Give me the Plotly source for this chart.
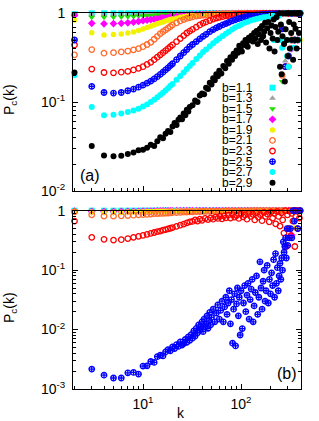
import plotly.graph_objects as go

# ---------------- data ----------------
K = [2, 3, 4, 5, 6, 7, 8, 9, 10, 11, 12, 13, 14, 15, 16, 17, 18, 19, 20, 22,
     24, 26, 28, 30, 32, 35, 38, 41, 44, 48, 52, 56, 60, 65, 70, 75, 81, 87, 94, 101,
     109, 117, 126, 136, 146, 157, 169, 182, 196, 211, 227, 244, 263, 283, 305, 328, 353, 380, 400]

LABELS = ["b=1.1", "b=1.3", "b=1.5", "b=1.7", "b=1.9", "b=2.1", "b=2.3", "b=2.5", "b=2.7", "b=2.9"]

# panel (a)
P_B11_A = [0.98, 1, 1, 1, 1, 1, 1, 1, 1, 1,
           1, 1, 1, 1, 1, 1, 1, 1, 1, 1,
           1, 1, 1, 1, 1, 1, 1, 1, 1, 1,
           1, 1, 1, 1, 1, 1, 1, 1, 1, 1,
           1, 1, 1, 1, 1, 1, 1, 1, 1, 1,
           1, 1, 1, 1, 1, 1, 1, 1, 1]
P_B13_A = [0.97, 0.96, 0.96, 0.965, 0.97, 0.97, 0.975, 0.98, 0.98, 0.985,
           0.985, 0.99, 0.99, 0.99, 0.99, 0.995, 0.995, 0.995, 0.995, 1,
           1, 1, 1, 1, 1, 1, 1, 1, 1, 1,
           1, 1, 1, 1, 1, 1, 1, 1, 1, 1,
           1, 1, 1, 1, 1, 1, 1, 1, 1, 1,
           1, 1, 1, 0.29, 1, 1, 1, 0.5, 1]
P_B15_A = [0.97, 0.90, 0.90, 0.905, 0.91, 0.915, 0.92, 0.93, 0.935, 0.94,
           0.945, 0.95, 0.955, 0.96, 0.963, 0.966, 0.97, 0.972, 0.975, 0.978,
           0.98, 0.983, 0.985, 0.987, 0.988, 0.99, 0.99, 0.992, 0.993, 0.994,
           0.995, 0.996, 0.997, 0.998, 0.998, 1, 1, 1, 1, 1,
           1, 1, 1, 1, 1, 1, 1, 1, 1, 1,
           1, 1, 0.17, 1, 1, 1, 0.5, 1, 1]
P_B17_A = [0.95, 0.77, 0.76, 0.765, 0.77, 0.78, 0.795, 0.81, 0.825, 0.84,
           0.85, 0.86, 0.87, 0.88, 0.89, 0.895, 0.90, 0.91, 0.915, 0.925,
           0.935, 0.94, 0.95, 0.955, 0.96, 0.965, 0.97, 0.975, 0.978, 0.98,
           0.983, 0.985, 0.987, 0.99, 0.99, 0.992, 0.993, 0.994, 0.995, 0.996,
           0.997, 0.998, 1, 1, 1, 1, 1, 1, 1, 1,
           1, 1, 1, 1, 1, 0.4, 1, 0.5, 1]
P_B19_A = [0.84, 0.605, 0.57, 0.575, 0.585, 0.60, 0.617, 0.64, 0.667, 0.69,
           0.715, 0.74, 0.76, 0.785, 0.80, 0.82, 0.835, 0.85, 0.86, 0.88,
           0.90, 0.915, 0.925, 0.935, 0.945, 0.955, 0.962, 0.968, 0.972, 0.976,
           0.98, 0.983, 0.985, 0.987, 0.99, 0.991, 0.993, 0.994, 0.995, 0.996,
           0.997, 0.998, 0.998, 1, 1, 1, 1, 1, 1, 1,
           1, 1, 1, 1, 0.33, 1, 1, 1, 0.5]
P_B21_A = [0.34, 0.39, 0.355, 0.36, 0.367, 0.375, 0.387, 0.40, 0.42, 0.445,
           0.47, 0.51, 0.55, 0.59, 0.62, 0.65, 0.68, 0.71, 0.74, 0.78,
           0.82, 0.85, 0.875, 0.895, 0.91, 0.93, 0.945, 0.955, 0.965, 0.972,
           0.978, 0.982, 0.985, 0.988, 0.99, 0.992, 0.993, 0.994, 0.995, 0.996,
           0.997, 0.998, 0.998, 1, 1, 1, 1, 1, 1, 1,
           1, 0.67, 0.2, 1, 0.25, 1, 0.5, 1, 1]
P_B23_A = [0.44, 0.235, 0.215, 0.213, 0.217, 0.222, 0.23, 0.24, 0.25, 0.265,
           0.28, 0.30, 0.32, 0.34, 0.36, 0.38, 0.40, 0.42, 0.44, 0.48,
           0.52, 0.56, 0.60, 0.63, 0.66, 0.70, 0.74, 0.775, 0.80, 0.83,
           0.86, 0.885, 0.90, 0.92, 0.935, 0.945, 0.955, 0.963, 0.97, 0.975,
           0.98, 0.984, 0.987, 0.99, 0.992, 0.994, 0.996, 0.997, 0.998, 1,
           1, 0.67, 1, 0.25, 1, 0.5, 1, 1, 1]
P_B25_A = [0.50, 0.15, 0.128, 0.126, 0.128, 0.134, 0.14, 0.147, 0.155, 0.163,
           0.172, 0.182, 0.193, 0.205, 0.217, 0.23, 0.243, 0.257, 0.27, 0.30,
           0.33, 0.36, 0.39, 0.42, 0.445, 0.48, 0.515, 0.55, 0.58, 0.62,
           0.655, 0.685, 0.71, 0.74, 0.765, 0.79, 0.82, 0.845, 0.87, 0.89,
           0.91, 0.925, 0.94, 0.95, 0.96, 0.967, 0.973, 0.978, 0.982, 0.985,
           0.988, 0.99, 0.67, 0.25, 0.33, 1, 0.5, 1, 1]
P_B27_A = [0.20, 0.088, 0.071, 0.072, 0.074, 0.077, 0.08, 0.084, 0.089, 0.094,
           0.10, 0.106, 0.113, 0.12, 0.127, 0.135, 0.143, 0.152, 0.16, 0.178,
           0.197, 0.215, 0.235, 0.255, 0.275, 0.305, 0.335, 0.365, 0.39, 0.425,
           0.46, 0.49, 0.52, 0.555, 0.59, 0.62, 0.655, 0.69, 0.72, 0.75,
           0.78, 0.805, 0.83, 0.85, 0.87, 0.885, 0.90, 0.91, 0.92, 0.93,
           0.5, 0.94, 0.41, 0.5, 0.25, 0.5, 1, 0.5, 1]
K_B27_A_TAIL = [205, 215, 220, 235, 250, 255, 270, 275, 290, 295, 315, 320, 340, 345, 365, 370, 390]
P_B27_A_TAIL = [0.96, 0.5, 0.88, 0.5, 0.97, 0.5, 0.5, 1.0, 0.5, 0.33, 0.5, 1.0, 0.5, 0.41, 0.5, 1.0, 0.5]

K_B29_A = [2, 3, 4, 5, 6, 7, 8, 9, 10, 11, 12, 13, 14, 15, 16, 17, 18, 19, 20, 21,
           22, 23, 24, 25, 26, 27, 28, 29, 30, 32, 34, 36, 38, 40, 42, 44, 46, 48, 50, 52,
           54, 56, 58, 60, 63, 66, 69, 72, 75, 78, 81, 84, 87, 90, 93, 96, 99, 102, 105, 108,
           111, 114, 117, 120, 124, 128, 132, 136, 140, 144, 148, 152, 156, 160, 164, 168, 172, 176, 180, 185,
           190, 195, 200, 205, 210, 215, 220, 225, 230, 235, 240, 245, 250, 255, 260, 265, 270, 275, 280, 285,
           290, 295, 300, 305, 310, 315, 320, 325, 330, 335, 340, 345, 350, 355, 360, 365, 370, 375, 380, 385,
           390, 395, 400]
P_B29_A = [0.215, 0.032, 0.025, 0.0245, 0.0248, 0.026, 0.027, 0.0285, 0.029, 0.0305, 0.033, 0.032, 0.036, 0.04, 0.039, 0.044, 0.047, 0.046, 0.053, 0.058,
           0.055, 0.063, 0.067, 0.064, 0.074, 0.071, 0.082, 0.078, 0.088, 0.092, 0.104, 0.10, 0.118, 0.125, 0.122, 0.145, 0.14, 0.165, 0.158, 0.185,
           0.176, 0.205, 0.195, 0.225, 0.21, 0.255, 0.24, 0.29, 0.27, 0.32, 0.30, 0.35, 0.33, 0.38, 0.36, 0.43, 0.40, 0.37, 0.46, 0.44,
           0.50, 0.47, 0.42, 0.53, 0.50, 0.56, 0.48, 0.60, 0.52, 0.63, 0.45, 0.58, 0.67, 0.50, 0.72, 0.55, 0.62, 0.78, 0.47, 0.68,
           0.80, 0.40, 0.60, 0.73, 0.52, 0.85, 0.37, 0.70, 0.90, 0.50, 0.62, 1.0, 0.25, 0.75, 0.205, 0.55, 1.0, 0.45, 0.17, 0.66,
           1.0, 0.50, 0.33, 1.0, 0.80, 0.40, 1.0, 0.60, 0.50, 1.0, 0.30, 0.75, 1.0, 0.50, 0.67, 1.0, 0.40, 1.0, 0.50, 1.0,
           0.60, 1.0, 1.0]

# panel (b)
P_B11_B = [1, 1, 1, 1, 1, 1, 1, 1, 1, 1,
           1, 1, 1, 1, 1, 1, 1, 1, 1, 1,
           1, 1, 1, 1, 1, 1, 1, 1, 1, 1,
           1, 1, 1, 1, 1, 1, 1, 1, 1, 1,
           1, 1, 1, 1, 1, 1, 1, 1, 1, 1,
           1, 1, 1, 1, 1, 1, 1, 1, 1]
P_B13_B = [0.99, 1, 1, 1, 1, 1, 1, 1, 1, 1,
           1, 1, 1, 1, 1, 1, 1, 1, 1, 1,
           1, 1, 1, 1, 1, 1, 1, 1, 1, 1,
           1, 1, 1, 1, 1, 1, 1, 1, 1, 1,
           1, 1, 1, 1, 1, 1, 1, 1, 1, 1,
           1, 1, 1, 1, 1, 1, 1, 1, 1]
P_B15_B = [0.99, 0.98, 0.98, 0.985, 0.985, 0.99, 0.99, 0.99, 0.995, 0.995,
           1, 1, 1, 1, 1, 1, 1, 1, 1, 1,
           1, 1, 1, 1, 1, 1, 1, 1, 1, 1,
           1, 1, 1, 1, 1, 1, 1, 1, 1, 1,
           1, 1, 1, 1, 1, 1, 1, 1, 1, 1,
           1, 1, 1, 1, 1, 1, 1, 1, 1]
P_B17_B = [0.98, 0.97, 0.965, 0.965, 0.97, 0.97, 0.975, 0.975, 0.98, 0.98,
           0.985, 0.985, 0.99, 0.99, 0.99, 0.99, 0.995, 0.995, 0.995, 1,
           1, 1, 1, 1, 1, 1, 1, 1, 1, 1,
           1, 1, 1, 1, 1, 1, 1, 1, 1, 1,
           1, 1, 1, 1, 1, 1, 1, 1, 1, 1,
           1, 1, 1, 1, 1, 0.39, 1, 1, 1]
P_B19_B = [0.97, 0.95, 0.94, 0.94, 0.945, 0.95, 0.955, 0.96, 0.963, 0.966,
           0.97, 0.972, 0.975, 0.977, 0.978, 0.98, 0.982, 0.983, 0.985, 0.987,
           0.99, 0.99, 0.992, 0.993, 0.994, 0.995, 0.996, 0.997, 0.998, 1,
           1, 1, 1, 1, 1, 1, 1, 1, 1, 1,
           1, 1, 1, 1, 1, 1, 1, 1, 1, 1,
           1, 1, 1, 1, 1, 1, 0.51, 1, 1]
P_B21_B = [0.96, 0.85, 0.81, 0.81, 0.82, 0.83, 0.84, 0.85, 0.86, 0.87,
           0.88, 0.89, 0.895, 0.90, 0.905, 0.91, 0.915, 0.92, 0.925, 0.93,
           0.94, 0.945, 0.95, 0.955, 0.96, 0.965, 0.97, 0.972, 0.975, 0.978,
           0.98, 0.982, 0.985, 0.987, 0.99, 0.99, 0.992, 0.993, 0.994, 0.995,
           0.996, 0.997, 0.998, 1, 1, 1, 1, 1, 1, 1,
           1, 1, 1, 1, 0.5, 1, 1, 1, 1]

K_B23_B = [2, 3, 4, 5, 6, 7, 8, 9, 10, 11, 12, 13, 14, 15, 16, 17, 18, 19, 20, 22,
           24, 26, 28, 30, 32, 34, 36, 38, 40, 43, 46, 49, 52, 55, 58, 61, 64, 67, 70, 74,
           78, 82, 86, 90, 95, 100, 105, 110, 115, 120, 126, 132, 138, 144, 150, 157, 164, 171, 178, 186,
           194, 202, 210, 218, 226, 234, 242, 250, 258, 266, 274, 282, 290, 298, 306, 314, 322, 330, 338, 346,
           354, 362, 370, 378, 386, 394, 400]
P_B23_B = [0.67, 0.356, 0.33, 0.32, 0.325, 0.34, 0.356, 0.37, 0.385, 0.40, 0.416, 0.43, 0.443, 0.455, 0.47, 0.48, 0.495, 0.507, 0.52, 0.545,
           0.57, 0.595, 0.625, 0.65, 0.66, 0.70, 0.67, 0.72, 0.69, 0.74, 0.71, 0.76, 0.72, 0.78, 0.74, 0.80, 0.73, 0.82, 0.76, 0.84,
           0.75, 0.86, 0.78, 0.83, 0.74, 0.88, 0.79, 0.85, 0.72, 0.90, 0.80, 0.87, 0.70, 0.92, 0.78, 0.86, 0.68, 0.94, 0.80, 0.88,
           0.65, 0.95, 0.75, 0.90, 0.60, 0.97, 0.80, 0.55, 0.92, 0.70, 0.42, 1.0, 0.25, 0.85, 0.50, 1.0, 0.38, 0.90, 0.67, 1.0,
           0.25, 0.80, 1.0, 0.50, 1.0, 0.75, 1.0]

K_B25_B = [3, 4, 5, 6, 7, 8, 9, 10, 11, 12, 13, 14, 15, 16, 17, 18, 19, 20, 21, 22,
           23, 24, 25, 26, 27, 28, 29, 30, 31, 32, 33, 34, 35, 36, 37, 38, 39, 40, 41, 42,
           43, 44, 45, 46, 47, 48, 49, 50, 52, 54, 56, 58, 60, 62, 64, 66, 68, 70, 72, 74,
           76, 78, 80, 82, 84, 86, 88, 90, 92, 94, 96, 98, 100, 103, 106, 109, 112, 115, 118, 121,
           124, 127, 130, 133, 136, 140, 144, 148, 152, 156, 160, 164, 168, 172, 176, 180, 185, 190, 195, 200,
           205, 210, 215, 220, 225, 230, 235, 240, 245, 250, 255, 260, 265, 270, 275, 280, 285, 290, 295, 300,
           310, 320, 330, 340, 350, 360, 380, 400]
P_B25_B = [0.00216, 0.00171, 0.00153, 0.00153, 0.00187, 0.0019, 0.00178, 0.00243, 0.00245, 0.0029, 0.0028, 0.0035, 0.0037, 0.0036, 0.0042, 0.0046, 0.0044, 0.0051, 0.0048, 0.0056,
           0.0052, 0.0062, 0.0055, 0.0058, 0.0068, 0.0061, 0.0075, 0.0066, 0.0082, 0.0072, 0.0095, 0.0078, 0.0105, 0.0088, 0.012, 0.0098, 0.0112, 0.0135, 0.0092, 0.015,
           0.011, 0.0125, 0.017, 0.0105, 0.014, 0.0195, 0.012, 0.016, 0.022, 0.0135, 0.019, 0.026, 0.015, 0.021, 0.030, 0.0135, 0.024, 0.035, 0.018, 0.028,
           0.045, 0.0125, 0.032, 0.0059, 0.022, 0.040, 0.0053, 0.027, 0.050, 0.017, 0.035, 0.0081, 0.045, 0.0104, 0.028, 0.055, 0.020, 0.038, 0.060, 0.015,
           0.032, 0.048, 0.070, 0.0135, 0.025, 0.042, 0.080, 0.018, 0.035, 0.138, 0.050, 0.022, 0.065, 0.10, 0.030, 0.045, 0.12, 0.028, 0.070, 0.040,
           0.090, 0.055, 0.15, 0.035, 0.19, 0.060, 0.11, 0.045, 0.080, 0.13, 0.070, 0.16, 0.10, 0.30, 0.20, 0.25, 0.35, 0.16, 0.50, 0.26,
           0.35, 0.50, 0.35, 1.0, 0.67, 1.0, 0.50, 1.0]

# ---------------- styles ----------------
COLORS = ["#00FFFF", "#A0A0A0", "#22DD00", "#FF00FF", "#F2F200",
          "#FF6A2A", "#FF0000", "#0000FF", "#00FFFF", "#000000"]
SYMBOLS = ["square", "triangle-up", "triangle-down", "diamond", "circle",
           "circle-open", "circle-open", "circle-cross-open", "circle", "circle"]
SIZES = [6, 6, 6, 6, 5.5, 5.5, 5.5, 5.5, 6, 6]


def marker(i):
    m = dict(symbol=SYMBOLS[i], color=COLORS[i], size=SIZES[i])
    if "open" in SYMBOLS[i]:
        m["line"] = dict(color=COLORS[i], width=1.3)
    else:
        m["line"] = dict(width=0)
    return m


fig = go.Figure()

top = [(K, P_B11_A), (K, P_B13_A), (K, P_B15_A), (K, P_B17_A), (K, P_B19_A),
       (K, P_B21_A), (K, P_B23_A), (K, P_B25_A),
       (K + K_B27_A_TAIL, P_B27_A + P_B27_A_TAIL), (K_B29_A, P_B29_A)]
for i, (xs, ys) in enumerate(top):
    fig.add_trace(go.Scatter(x=xs, y=ys, mode="markers", marker=marker(i),
                             cliponaxis=False, xaxis="x", yaxis="y", showlegend=False))

bottom = [(0, K, P_B11_B), (1, K, P_B13_B), (2, K, P_B15_B), (3, K, P_B17_B),
          (4, K, P_B19_B), (5, K, P_B21_B), (6, K_B23_B, P_B23_B), (7, K_B25_B, P_B25_B)]
for i, xs, ys in bottom:
    fig.add_trace(go.Scatter(x=xs, y=ys, mode="markers", marker=marker(i),
                             cliponaxis=False, xaxis="x2", yaxis="y2", showlegend=False))

# layout geometry (pixels)
W_L, W_R, H_T, H_B = 73, 18, 13, 32
PW = 319 - W_L - W_R
PH = 421 - H_T - H_B
TOP_PX = (13.3, 190.7)
BOT_PX = (210.7, 389.0)


def ypaper(px):
    return (421 - H_B - px) / PH


def xpaper(px):
    return (px - W_L) / PW


# legend (text left, symbol right) drawn on an overlay axis of panel (a)
leg_rows = [87.7 + 10.55 * i for i in range(len(LABELS))]
for i, lab in enumerate(LABELS):
    yv = (TOP_PX[1] - leg_rows[i]) / (TOP_PX[1] - TOP_PX[0])
    fig.add_trace(go.Scatter(x=[xpaper(272.5)], y=[yv], mode="markers", marker=marker(i),
                             xaxis="x3", yaxis="y3", showlegend=False, cliponaxis=False))

FONT = "Liberation Sans, Arial, sans-serif"
ann = []
for i, lab in enumerate(LABELS):
    ann.append(dict(text=lab, x=xpaper(220), y=ypaper(leg_rows[i]), xref="paper", yref="paper",
                    xanchor="left", yanchor="middle", showarrow=False, height=10,
                    font=dict(family=FONT, size=12, color="black")))


def label(text, px, py, size, angle=0):
    return dict(text=text, x=xpaper(px), y=ypaper(py), xref="paper", yref="paper",
                xanchor="center", yanchor="middle", textangle=angle, showarrow=False,
                font=dict(family=FONT, size=size, color="black"))


ann += [
    label("(a)", 90, 175, 16),
    label("(b)", 287, 373, 16),
    label("P<sub>c</sub>(k)", 10, 99, 14, -90),
    label("P<sub>c</sub>(k)", 10, 307, 14, -90),
    label("k", 181, 413, 14),
]

XMAJ = [10, 100]
XMIN = [2, 3, 4, 5, 6, 7, 8, 9, 20, 30, 40, 50, 60, 70, 80, 90, 200, 300, 400]
YMIN_A = [0.02, 0.03, 0.04, 0.05, 0.06, 0.07, 0.08, 0.09, 0.2, 0.3, 0.4, 0.5, 0.6, 0.7, 0.8, 0.9]
YMIN_B = [0.002, 0.003, 0.004, 0.005, 0.006, 0.007, 0.008, 0.009,
          0.02, 0.03, 0.04, 0.05, 0.06, 0.07, 0.08, 0.09] + YMIN_A[8:]

axis_common = dict(type="log", showline=True, linecolor="black", linewidth=1, mirror="ticks",
                   ticks="inside", ticklen=5, tickcolor="black", showgrid=False, zeroline=False,
                   automargin=False,
                   tickfont=dict(family=FONT, size=14, color="black"))

xr = [0.2857, 2.612]
fig.update_layout(
    template="none",
    width=319, height=421,
    margin=dict(l=W_L, r=W_R, t=H_T, b=H_B, autoexpand=False),
    paper_bgcolor="white", plot_bgcolor="white",
    showlegend=False,
    hovermode=False,
    font=dict(family=FONT, size=14, color="black"),
    xaxis=dict(axis_common, domain=[0, 1], anchor="y", range=xr, tickmode="array", tickvals=XMAJ,
               showticklabels=False,
               minor=dict(ticks="inside", ticklen=3, tickcolor="black", tickmode="array", tickvals=XMIN)),
    yaxis=dict(axis_common, domain=[ypaper(TOP_PX[1]), ypaper(TOP_PX[0])], anchor="x", range=[-2, 0],
               tickmode="array", tickvals=[0.01, 0.1, 1],
               ticktext=["10<sup>-2</sup>", "10<sup>-1</sup>", "1"], ticklabelstandoff=4,
               minor=dict(ticks="inside", ticklen=3, tickcolor="black", tickmode="array", tickvals=YMIN_A)),
    xaxis2=dict(axis_common, domain=[0, 1], anchor="y2", range=xr, tickmode="array", tickvals=XMAJ,
                ticktext=["10<sup>1</sup>", "10<sup>2</sup>"], ticklabelstandoff=2,
                minor=dict(ticks="inside", ticklen=3, tickcolor="black", tickmode="array", tickvals=XMIN)),
    yaxis2=dict(axis_common, domain=[0, ypaper(BOT_PX[0])], anchor="x2", range=[-3, 0],
                tickmode="array", tickvals=[0.001, 0.01, 0.1, 1],
                ticktext=["10<sup>-3</sup>", "10<sup>-2</sup>", "10<sup>-1</sup>", "1"], ticklabelstandoff=4,
                minor=dict(ticks="inside", ticklen=3, tickcolor="black", tickmode="array", tickvals=YMIN_B)),
    xaxis3=dict(domain=[0, 1], anchor="y3", range=[0, 1], visible=False, overlaying="x"),
    yaxis3=dict(domain=[ypaper(TOP_PX[1]), ypaper(TOP_PX[0])], anchor="x3", range=[0, 1],
                visible=False, overlaying="y"),
    annotations=ann,
)

fig.write_html("out.html", config={"displayModeBar": False, "staticPlot": True},
               post_script="document.body.style.margin='0';document.body.style.overflow='hidden';")
